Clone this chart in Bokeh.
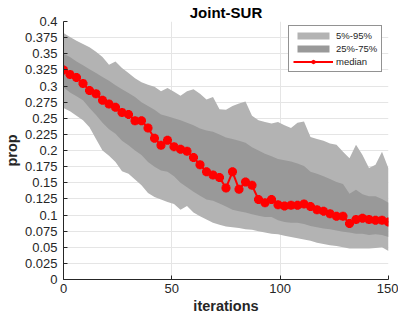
from bokeh.plotting import figure
from bokeh.models import Range1d, FixedTicker
from bokeh.embed import file_html
from bokeh.resources import INLINE

# --- data ---
iterations = list(range(0, 151, 3))

p5 = [0.266, 0.261, 0.254, 0.247, 0.236, 0.218, 0.200, 0.192, 0.182, 0.168,
      0.164, 0.155, 0.146, 0.134, 0.128, 0.124, 0.120, 0.117, 0.108, 0.114,
      0.104, 0.098, 0.093, 0.088, 0.085, 0.082, 0.081, 0.080, 0.078, 0.077,
      0.075, 0.073, 0.071, 0.070, 0.068, 0.066, 0.064, 0.062, 0.060, 0.057,
      0.055, 0.053, 0.052, 0.050, 0.048, 0.048, 0.048, 0.048, 0.049, 0.050,
      0.044]

p25 = [0.298, 0.290, 0.284, 0.278, 0.266, 0.255, 0.243, 0.233, 0.226, 0.215,
       0.208, 0.200, 0.193, 0.182, 0.175, 0.169, 0.167, 0.160, 0.150, 0.143,
       0.136, 0.130, 0.124, 0.122, 0.118, 0.113, 0.108, 0.106, 0.104, 0.101,
       0.099, 0.097, 0.097, 0.092, 0.089, 0.088, 0.088, 0.086, 0.083, 0.081,
       0.079, 0.078, 0.076, 0.074, 0.073, 0.071, 0.071, 0.069, 0.070, 0.069,
       0.066]

p75 = [0.350, 0.345, 0.338, 0.332, 0.326, 0.320, 0.314, 0.308, 0.301, 0.295,
       0.289, 0.283, 0.275, 0.269, 0.263, 0.256, 0.253, 0.250, 0.247, 0.243,
       0.239, 0.234, 0.231, 0.229, 0.225, 0.220, 0.218, 0.215, 0.212, 0.205,
       0.200, 0.195, 0.191, 0.187, 0.185, 0.183, 0.180, 0.176, 0.167, 0.164,
       0.160, 0.156, 0.151, 0.148, 0.133, 0.139, 0.132, 0.129, 0.129, 0.125,
       0.119]

p95 = [0.382, 0.376, 0.370, 0.365, 0.360, 0.353, 0.345, 0.333, 0.338, 0.328,
       0.320, 0.312, 0.306, 0.302, 0.299, 0.292, 0.297, 0.291, 0.285, 0.292,
       0.295, 0.288, 0.279, 0.283, 0.264, 0.263, 0.269, 0.273, 0.276, 0.254,
       0.247, 0.244, 0.242, 0.244, 0.239, 0.235, 0.243, 0.245, 0.221, 0.218,
       0.215, 0.211, 0.209, 0.198, 0.188, 0.209, 0.193, 0.173, 0.178, 0.198,
       0.172]

median = [0.325, 0.318, 0.313, 0.304, 0.293, 0.288, 0.278, 0.272, 0.267, 0.259,
          0.256, 0.246, 0.246, 0.235, 0.219, 0.208, 0.216, 0.206, 0.202, 0.199,
          0.189, 0.178, 0.167, 0.162, 0.158, 0.142, 0.167, 0.140, 0.151, 0.146,
          0.124, 0.119, 0.124, 0.116, 0.114, 0.115, 0.115, 0.117, 0.113, 0.108,
          0.106, 0.102, 0.098, 0.098, 0.087, 0.093, 0.095, 0.093, 0.092, 0.092,
          0.089]

xticks = [0, 50, 100, 150]
xtick_labels = ["0", "50", "100", "150"]
yticks = [0, 0.025, 0.05, 0.075, 0.1, 0.125, 0.15, 0.175, 0.2, 0.225, 0.25,
          0.275, 0.3, 0.325, 0.35, 0.375, 0.4]
ytick_labels = ["0", "0.025", "0.05", "0.075", "0.1", "0.125", "0.15", "0.175",
                "0.2", "0.225", "0.25", "0.275", "0.3", "0.325", "0.35",
                "0.375", "0.4"]

FONT = "Liberation Sans"
AX = "#262626"

W, H = 398, 317
BL, BR, BT, BB = 55, 10, 20, 38

p = figure(width=W, height=H, output_backend="svg", toolbar_location=None,
           x_range=Range1d(0, 150), y_range=Range1d(0, 0.4),
           min_border_left=BL, min_border_right=BR, min_border_top=BT,
           min_border_bottom=BB, title="Joint-SUR")
p.outline_line_color = None
p.background_fill_color = "white"

p.varea(x=iterations, y1=p5, y2=p95, fill_color="#b3b3b3", legend_label="5%-95%")
p.varea(x=iterations, y1=p25, y2=p75, fill_color="#999999", legend_label="25%-75%")
p.line(iterations, median, line_color="#ff0000", line_width=2, legend_label="median")
p.scatter(iterations, median, marker="asterisk", size=9, line_color="#ff0000",
          line_width=3, legend_label="median")

p.title.text_font = FONT
p.title.text_font_size = "15px"
p.title.text_font_style = "bold"
p.title.align = "center"
p.title.text_color = "black"
p.title.standoff = 2

p.xaxis.ticker = FixedTicker(ticks=xticks)
p.xaxis.major_label_overrides = dict(zip(xticks, xtick_labels))
p.yaxis.ticker = FixedTicker(ticks=yticks)
p.yaxis.major_label_overrides = dict(zip(yticks, ytick_labels))

for ax in (p.xaxis, p.yaxis):
    ax.axis_line_color = AX
    ax.axis_line_width = 1
    ax.major_tick_line_color = AX
    ax.major_tick_in = 4
    ax.major_tick_out = 0
    ax.minor_tick_line_color = None
    ax.major_label_text_font = FONT
    ax.major_label_text_font_size = "13px"
    ax.major_label_text_color = AX
    ax.axis_label_text_font = FONT
    ax.axis_label_text_font_size = "14.5px"
    ax.axis_label_text_font_style = "bold"
    ax.axis_label_text_color = AX

p.xaxis.axis_label = "iterations"
p.yaxis.axis_label = "prop"
p.xaxis.major_label_standoff = 4
p.xaxis.axis_label_standoff = 2
p.yaxis.major_label_standoff = 6
p.yaxis.axis_label_standoff = 2

p.grid.grid_line_color = "#e5e5e5"
p.grid.grid_line_width = 1

frame_w = W - BL - BR
frame_h = H - BT - BB
lg = p.legend[0]
lg.location = (frame_w - 12 - 96, frame_h - 10 - 42)
lg.border_line_color = AX
lg.border_line_width = 1
lg.background_fill_color = "white"
lg.background_fill_alpha = 1
lg.padding = 4
lg.spacing = 2
lg.margin = 0
lg.glyph_width = 40
lg.glyph_height = 9
lg.label_height = 10
lg.label_standoff = 3
lg.label_text_font = FONT
lg.label_text_font_size = "9.5px"
lg.label_text_color = AX

open("out.html", "w").write(file_html(p, INLINE))
